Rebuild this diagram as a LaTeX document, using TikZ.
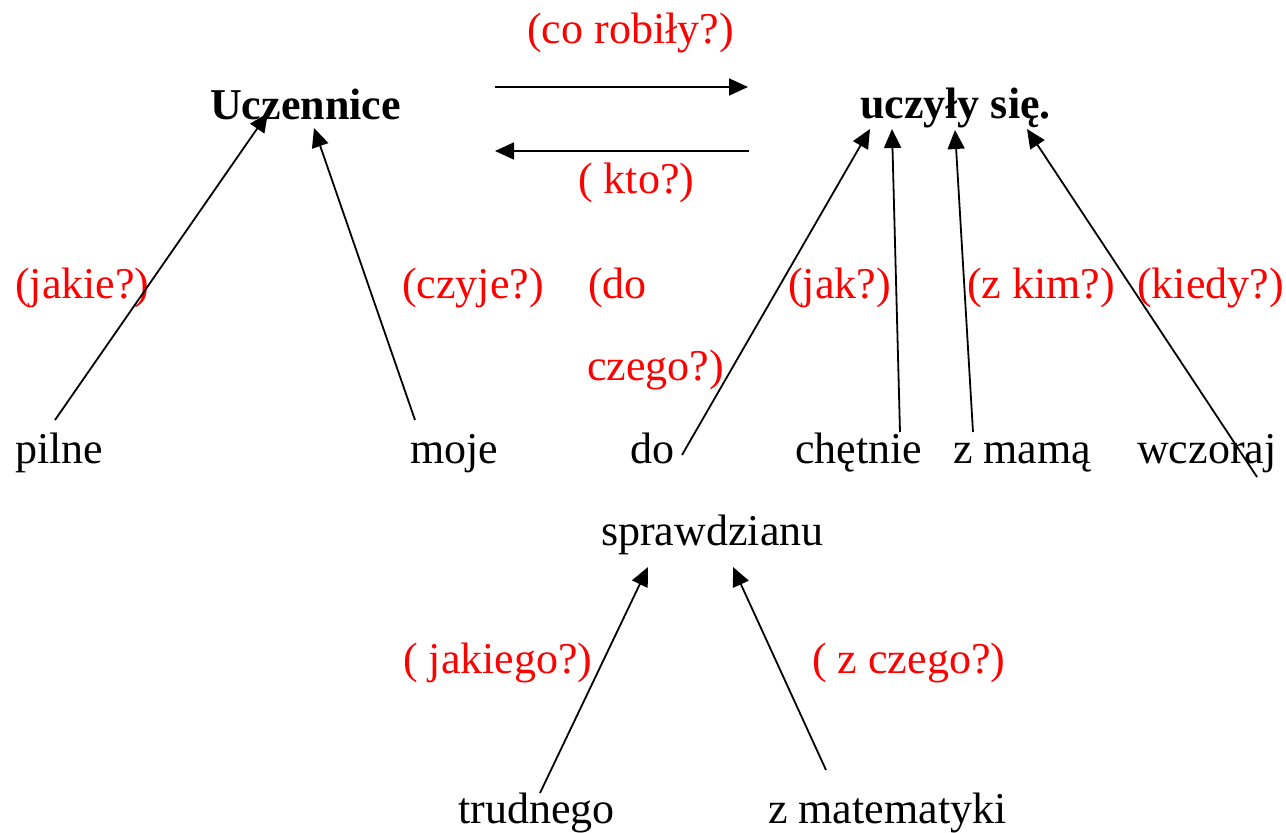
\documentclass[tikz,border=0pt]{standalone}
\usepackage{fontspec}
\setmainfont{Liberation Serif}
\usetikzlibrary{arrows.meta}

\tikzset{
  word/.style={anchor=base west, inner sep=0pt, font=\fontsize{44}{53}\selectfont},
  headword/.style={word, font=\fontsize{44}{53}\selectfont\bfseries},
  question/.style={word, text=red},
  arr/.style={line width=1.8pt, -{Triangle[length=19pt,width=17pt]}}
}

\begin{document}
\begin{tikzpicture}[x=1pt, y=-1pt]
\useasboundingbox (0, 0) rectangle (1286, 833);

\node [headword] (ucz) at (210, 119) {Uczennice};
\node [headword] (uczyly) at (860, 118) {uczyły się.};
\node [question] (corobily) at (527, 43) {(co robiły?)};
\node [question] (kto) at (578, 193) {( kto?)};

\node [question] (jakie) at (15, 298) {(jakie?)};
\node [question] (czyje) at (402, 298) {(czyje?)};
\node [question] (doczego1) at (588, 298) {(do};
\node [question] (doczego2) at (587, 380) {czego?)};
\node [question] (jak) at (788, 298) {(jak?)};
\node [question] (zkim) at (967, 298) {(z kim?)};
\node [question] (kiedy) at (1137, 298) {(kiedy?)};

\node [word] (pilne) at (15, 463) {pilne};
\node [word] (moje) at (410, 463) {moje};
\node [word] (do) at (630, 463) {do};
\node [word] (chetnie) at (795, 463) {chętnie};
\node [word] (zmama) at (953, 463) {z mamą};
\node [word] (wczoraj) at (1137, 463) {wczoraj};

\node [word] (spr) at (601, 545) {sprawdzianu};
\node [question] (jakiego) at (403, 673) {( jakiego?)};
\node [question] (zczego) at (812, 673) {( z czego?)};
\node [word] (trudnego) at (458, 823) {trudnego};
\node [word] (zmat) at (768, 823) {z matematyki};

% podmiot <-> orzeczenie
\draw [arr] ([shift={(285, -32)}]ucz.base west) -- ([shift={(-112, -31)}]uczyly.base west);
\draw [arr] ([shift={(-111, 33)}]uczyly.base west) -- ([shift={(285, 32)}]ucz.base west);

\draw [arr] ([shift={(40, -43)}]pilne.base west) -- ([shift={(58, -6)}]ucz.base west);
\draw [arr] ([shift={(5, -43)}]moje.base west) -- ([shift={(104, 9)}]ucz.base west);

\draw [arr] ([shift={(52, -8)}]do.base west) -- ([shift={(10, 11)}]uczyly.base west);
\draw [arr] ([shift={(105, -31)}]chetnie.base west) -- ([shift={(32, 11)}]uczyly.base west);
\draw [arr] ([shift={(20, -31)}]zmama.base west) -- ([shift={(95, 12)}]uczyly.base west);
\draw [arr] ([shift={(120, 14)}]wczoraj.base west) -- ([shift={(167, 11)}]uczyly.base west);

\draw [arr] ([shift={(82, -30)}]trudnego.base west) -- ([shift={(47, 22)}]spr.base west);
\draw [arr] ([shift={(58, -53)}]zmat.base west) -- ([shift={(132, 22)}]spr.base west);
\end{tikzpicture}
\end{document}
